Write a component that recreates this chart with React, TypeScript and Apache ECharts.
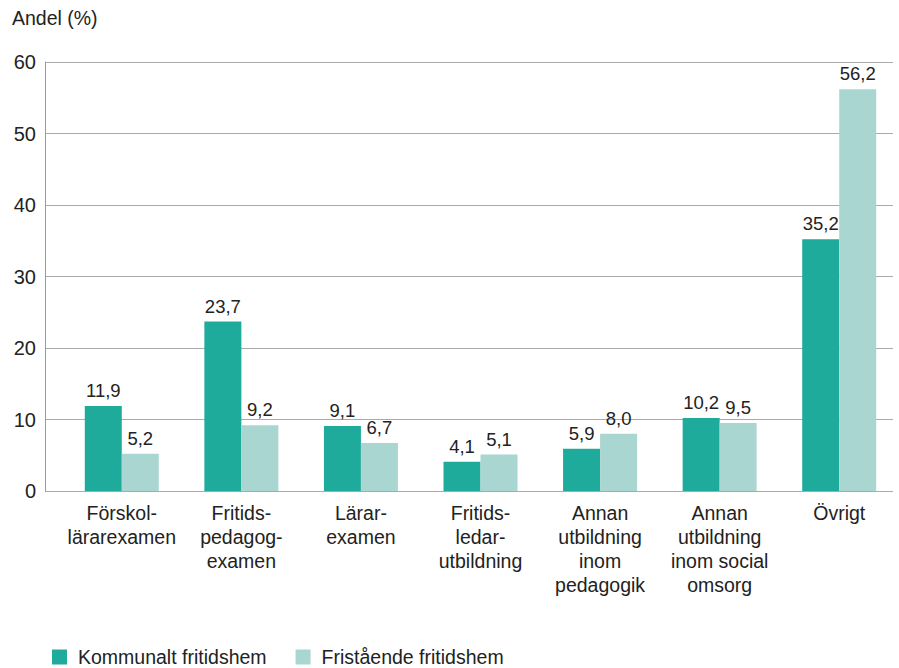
import React, { useEffect, useRef } from "react";
import * as echarts from "echarts";

const categories = [
  "Förskol-\nlärarexamen",
  "Fritids-\npedagog-\nexamen",
  "Lärar-\nexamen",
  "Fritids-\nledar-\nutbildning",
  "Annan\nutbildning\ninom\npedagogik",
  "Annan\nutbildning\ninom social\nomsorg",
  "Övrigt",
];
const kommunalt = [11.9, 23.7, 9.1, 4.1, 5.9, 10.2, 35.2];
const fristaende = [5.2, 9.2, 6.7, 5.1, 8.0, 9.5, 56.2];
const seriesNames = ["Kommunalt fritidshem", "Fristående fritidshem"];
const yTicks = [0, 10, 20, 30, 40, 50, 60];

const FONT = "'Liberation Sans', Arial, sans-serif";
const TXT = "#222";

export default function App() {
  const ref = useRef<HTMLDivElement>(null);
  useEffect(() => {
    if (!ref.current) return;
    const chart = echarts.init(ref.current, undefined, { renderer: "svg" });
    const fmt = (p: any) => Number(p.value).toFixed(1).replace(".", ",");
    const yMin = yTicks[0];
    const yMax = yTicks[yTicks.length - 1];
    chart.setOption({
      animation: false,
      textStyle: { fontFamily: FONT },
      grid: [
        { left: 45, right: 6, top: 62, bottom: 177, containLabel: false },
        { left: 62, right: 0, top: 62, bottom: 177, containLabel: false },
      ],
      legend: {
        data: seriesNames,
        left: 52,
        top: 647,
        padding: 0,
        itemWidth: 15,
        itemHeight: 15,
        itemGap: 29,
        icon: "rect",
        textStyle: { fontSize: 19.5, color: TXT, fontFamily: FONT, padding: [0, 0, 0, 6] },
      },
      graphic: [
        {
          type: "text",
          left: 12,
          top: 8,
          style: { text: "Andel (%)", fontSize: 19.5, fill: TXT, fontFamily: FONT },
        },
      ],
      xAxis: [
        {
          type: "value",
          gridIndex: 0,
          min: 0,
          max: 1,
          show: false,
        },
        {
          type: "category",
          gridIndex: 1,
          data: categories,
          axisLine: { show: false },
          axisTick: { show: false },
          axisLabel: {
            interval: 0,
            fontSize: 19.5,
            color: TXT,
            lineHeight: 24,
            margin: 10,
            fontFamily: FONT,
          },
        },
      ],
      yAxis: [
        {
          type: "value",
          gridIndex: 0,
          min: yMin,
          max: yMax,
          interval: 10,
          axisLine: { show: true, lineStyle: { color: "#999" } },
          axisTick: { show: false },
          splitLine: { show: true, lineStyle: { color: "#aaa", width: 1 } },
          axisLabel: { fontSize: 20, color: TXT, margin: 9, fontFamily: FONT },
        },
        {
          type: "value",
          gridIndex: 1,
          min: yMin,
          max: yMax,
          interval: 10,
          show: false,
        },
      ],
      series: [
        {
          name: seriesNames[0],
          type: "bar",
          xAxisIndex: 1,
          yAxisIndex: 1,
          data: kommunalt,
          barWidth: 37,
          barGap: "0%",
          itemStyle: { color: "#1fab9b" },
          label: { show: true, position: "top", distance: 6, formatter: fmt, fontSize: 18.5, color: TXT, fontFamily: FONT },
        },
        {
          name: seriesNames[1],
          type: "bar",
          xAxisIndex: 1,
          yAxisIndex: 1,
          data: fristaende,
          barWidth: 37,
          barGap: "0%",
          itemStyle: { color: "#aad6d1" },
          label: { show: true, position: "top", distance: 6, formatter: fmt, fontSize: 18.5, color: TXT, fontFamily: FONT },
        },
      ],
    });
    return () => chart.dispose();
  }, []);
  return <div ref={ref} style={{ width: 899, height: 668, position: "absolute", left: 0, top: 0 }} />;
}
